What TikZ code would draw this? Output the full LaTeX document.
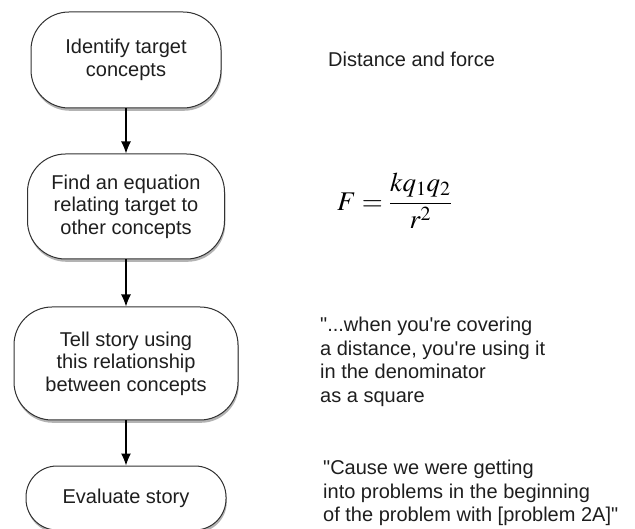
\documentclass[tikz,border=0pt]{standalone}
\usepackage{amsmath}
\usepackage{mathptmx}
\usepackage{fontspec}
\setmainfont{Liberation Sans}[Ligatures=TeXOff]
\usepackage{tikz}
\usetikzlibrary{arrows.meta,positioning,shadows}
\definecolor{boxline}{RGB}{50,50,50}
\definecolor{textgray}{RGB}{30,30,30}

\begin{document}
\begin{tikzpicture}[
    x=1pt, y=1pt,
    node distance=45pt,
    stepbox/.style={
      rectangle, rounded corners=38pt, draw=boxline, line width=1pt, fill=white,
      drop shadow={opacity=0.6, shadow xshift=0.8pt, shadow yshift=-2.8pt},
      align=center, text=textgray, inner sep=4pt,
      font=\fontsize{20}{22.5}\selectfont
    },
    remark/.style={
      align=left, anchor=north west, inner sep=0pt, text=textgray,
      font=\fontsize{20}{23.5}\selectfont
    },
    arrow/.style={-{Latex[length=12pt,width=10pt]}, line width=1.2pt, draw=black}
  ]
    \useasboundingbox (0,0) rectangle (635,-529);
    \node[stepbox, minimum width=190pt, minimum height=96pt] (ident) at (126,-60) {Identify target\\concepts};
    \node[stepbox, minimum width=197pt, minimum height=105pt, below=of ident] (equation) {Find an equation\\relating target to\\other concepts};
    \node[stepbox, minimum width=224pt, minimum height=113pt, below=47pt of equation] (story) {Tell story using\\this relationship\\between concepts};
    \node[stepbox, rounded corners=31pt, minimum width=200pt, minimum height=64pt, below=of story] (evaluate) {Evaluate story};
    \draw[arrow] (ident) -- (equation);
    \draw[arrow] (equation) -- (story);
    \draw[arrow] (story) -- (evaluate);
    % remarks on the right
    \node[remark] (distance) at (328,-52) {Distance and force};
    \node[anchor=west, inner sep=0pt, font=\fontsize{27}{32}\selectfont] (coulomb) at (337,-201) {$F = \dfrac{kq_1q_2}{r^2}$};
    \node[remark] (quote) at (320,-317) {"...when you're covering\\a distance, you're using it\\in the denominator\\as a square};
    \node[remark] (cause) at (323,-460) {"Cause we were getting\\into problems in the beginning\\of the problem with [problem 2A]"};
  \end{tikzpicture}
\end{document}
